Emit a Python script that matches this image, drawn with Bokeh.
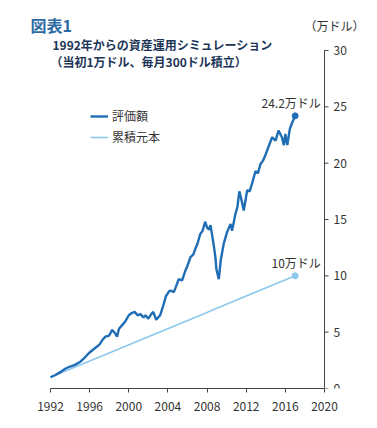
from bokeh.plotting import figure
from bokeh.models import Range1d, Label, Legend, LegendItem, FixedTicker
from bokeh.embed import file_html
from bokeh.resources import INLINE
from bokeh.core.properties import value

# --- data (万ドル) ---
val_years = [1992.0, 1992.5, 1993.0, 1993.5, 1994.0, 1994.5, 1995.0, 1995.5, 1996.0, 1996.5,
             1997.0, 1997.3, 1997.6, 1998.0, 1998.3, 1998.6, 1998.8, 1999.0, 1999.3, 1999.6,
             2000.0, 2000.3, 2000.6, 2000.9, 2001.2, 2001.5, 2001.7, 2002.0, 2002.3, 2002.5,
             2002.8, 2003.0, 2003.2, 2003.5, 2003.8, 2004.1, 2004.3, 2004.6, 2004.8, 2005.1,
             2005.45, 2005.8, 2006.0, 2006.3, 2006.6, 2006.8, 2007.0, 2007.3, 2007.55, 2007.8,
             2008.0, 2008.2, 2008.35, 2008.5, 2008.7, 2008.85, 2008.95, 2009.2, 2009.4, 2009.7,
             2010.05, 2010.4, 2010.55, 2010.9, 2011.1, 2011.3, 2011.5, 2011.75, 2012.1, 2012.35,
             2012.6, 2012.95, 2013.2, 2013.45, 2013.7, 2014.0, 2014.3, 2014.65, 2015.0, 2015.3,
             2015.65, 2015.85, 2016.0, 2016.2, 2016.45, 2016.65, 2016.85, 2017.0]
valuation = [1.0, 1.2, 1.45, 1.75, 1.95, 2.1, 2.35, 2.75, 3.2, 3.55,
             3.9, 4.3, 4.6, 4.7, 5.2, 4.9, 4.6, 5.3, 5.6, 5.9,
             6.5, 6.7, 6.8, 6.5, 6.6, 6.3, 6.5, 6.2, 6.6, 6.8,
             6.1, 6.3, 6.5, 7.3, 8.2, 8.6, 8.7, 8.55, 9.0, 9.7,
             9.6, 10.5, 10.9, 11.65, 11.9, 12.4, 12.8, 13.7, 14.0, 14.8,
             14.3, 14.1, 14.5, 13.7, 12.6, 11.65, 10.6, 9.7, 11.4, 12.85,
             13.9, 14.6, 14.0, 15.5, 16.1, 17.5, 16.8, 15.8, 17.6, 17.5,
             18.2, 19.3, 19.1, 19.9, 20.2, 20.8, 21.5, 22.3, 22.0, 22.9,
             22.3, 21.6, 22.6, 21.6, 23.0, 23.5, 23.9, 24.2]

prin_years = [1992, 1997, 2002, 2007, 2012, 2017]
principal = [1.0, 2.8, 4.6, 6.4, 8.2, 10.0]

x_ticks = [1992, 1996, 2000, 2004, 2008, 2012, 2016, 2020]
y_ticks = [0, 5, 10, 15, 20, 25, 30]

legend_labels = ["評価額", "累積元本"]
end_labels = ["24.2万ドル", "10万ドル"]

JP = "Noto Sans CJK JP"
DARK_BLUE = "#1f6db5"
LIGHT_BLUE = "#8cc8ec"
GRAY = "#444444"
TXT = "#333333"

# frame spans page x=0..377, y=0..388; data 1992..2020 at x=50..324, 0..30 at y=388..50
XPX = 274 / 28.0
YPX = 338 / 30.0
p = figure(width=377, height=428, output_backend="svg", toolbar_location=None,
           x_range=Range1d(1992 - 50 / XPX, 2020 + 53 / XPX), y_range=Range1d(0, 388 / YPX),
           min_border_left=0, min_border_right=0, min_border_top=0, min_border_bottom=40,
           y_axis_location=None)
p.outline_line_color = None
p.grid.visible = False
p.background_fill_color = "white"
p.border_fill_color = "white"

xa = p.xaxis[0]
xa.ticker = FixedTicker(ticks=x_ticks)
xa.bounds = (x_ticks[0], x_ticks[-1])
xa.minor_tick_line_color = None
xa.axis_line_color = GRAY
xa.major_tick_line_color = GRAY
xa.major_tick_out = 4
xa.major_tick_in = 0
xa.major_label_text_font = JP
xa.major_label_text_font_size = "12px"
xa.major_label_text_color = TXT
xa.major_label_standoff = 9

# value axis on the right edge of the data area (at x = 2020)
ax_x = [x_ticks[-1]] * len(y_ticks)
p.segment(x0=[x_ticks[-1]], y0=[y_ticks[0]], x1=[x_ticks[-1]], y1=[y_ticks[-1]],
          line_color=GRAY, line_width=1)
p.ray(x=ax_x, y=y_ticks, length=4, length_units="screen", angle=0,
      line_color=GRAY, line_width=1)
p.text(x=ax_x, y=y_ticks, text=[str(t) for t in y_ticks], x_offset=9,
       text_font=value(JP), text_font_size="12px", text_color=TXT,
       text_align="left", text_baseline="middle")

r_prin = p.line(prin_years, principal, line_color=LIGHT_BLUE, line_width=1.6)
r_val = p.line(val_years, valuation, line_color=DARK_BLUE, line_width=2.4)
p.scatter([prin_years[-1]], [principal[-1]], size=6, color=LIGHT_BLUE)
p.scatter([val_years[-1]], [valuation[-1]], size=6, color=DARK_BLUE)

p.text([val_years[-1]], [valuation[-1]], text=[end_labels[0]], text_font=value(JP),
       text_font_size="12px", text_color=TXT, text_align="center",
       text_baseline="bottom", x_offset=-4, y_offset=-5)
p.text([prin_years[-1]], [principal[-1]], text=[end_labels[1]], text_font=value(JP),
       text_font_size="12px", text_color=TXT, text_align="center",
       text_baseline="bottom", x_offset=1, y_offset=-5)

legend = Legend(items=[LegendItem(label=legend_labels[0], renderers=[r_val]),
                       LegendItem(label=legend_labels[1], renderers=[r_prin])],
                location=(90, 243), label_text_font=JP, label_text_font_size="12px",
                label_text_color=TXT, glyph_width=18, glyph_height=14,
                spacing=4, padding=2, label_standoff=4, margin=0,
                border_line_color=None, background_fill_alpha=0)
p.add_layout(legend, "center")

def lab(text, x, y, size, color, bold=False):
    # x, y given as page pixels from the top-left; frame bottom-left is page (0, 388)
    p.add_layout(Label(x=x, y=388 - y, x_units="screen", y_units="screen", text=text,
                       text_font=JP, text_font_size=size, text_color=color,
                       text_font_style="bold" if bold else "normal",
                       text_baseline="middle"))

lab("図表1", 30, 24, "16px", "#2b6aa3", True)
lab("1992年からの資産運用シミュレーション", 52, 44, "12px", "#1c3557", True)
lab("（当初1万ドル、毎月300ドル積立）", 50, 61, "12px", "#1c3557", True)
lab("（万ドル）", 304, 25, "12px", TXT)

open("out.html", "w").write(file_html(p, INLINE))
